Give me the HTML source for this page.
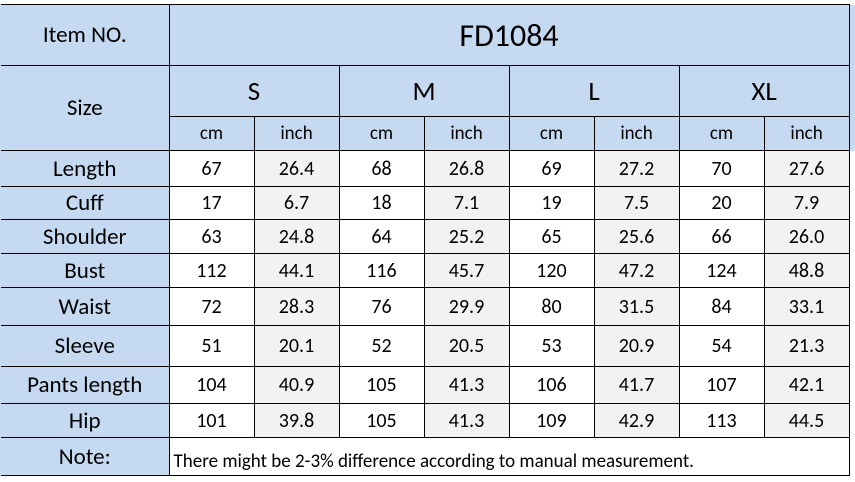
<!DOCTYPE html>
<html><head><meta charset="utf-8"><style>
html,body{margin:0;padding:0;background:#fff;width:855px;height:482px;overflow:hidden}
table{position:absolute;left:1px;top:4px;width:858px;border-collapse:collapse;table-layout:fixed;font-family:"Carlito","Liberation Sans",sans-serif;color:#000}
td{border:1px solid #000;padding:0;text-align:center;vertical-align:middle;font-size:20px;overflow:hidden;white-space:nowrap}
.b{background:#c5d9f1}
.h{background:#c5d9f1;font-size:19px}
.g{background:#f2f2f2}
.l{font-size:23px;background:#c5d9f1}
.s{background:#c5d9f1;font-size:27px}
.x{border-right:none;border-top:none;border-bottom:none}
</style></head><body>
<div style="position:absolute;left:0;top:4px;width:2px;height:146px;background:#c5d9f1"></div>
<div style="position:absolute;left:0;top:150px;width:2px;height:326px;background:#c5d9f1"></div>
<table>
<colgroup><col style="width:168px"><col style="width:85px"><col style="width:85px"><col style="width:85px"><col style="width:85px"><col style="width:85px"><col style="width:85px"><col style="width:85px"><col style="width:85px"><col style="width:10px"></colgroup>
<tr style="height:61px"><td class="l" style="border-left:none">Item NO.</td><td class="b" colspan="8" style="font-size:32px">FD1084</td><td class="b x"></td></tr>
<tr style="height:51px"><td class="l" rowspan="2" style="border-left:none">Size</td><td class="s" colspan="2">S</td><td class="s" colspan="2">M</td><td class="s" colspan="2">L</td><td class="s" colspan="2">XL</td><td class="b x"></td></tr>
<tr style="height:34px"><td class="h">cm</td><td class="h">inch</td><td class="h">cm</td><td class="h">inch</td><td class="h">cm</td><td class="h">inch</td><td class="h">cm</td><td class="h">inch</td><td class="b x"></td></tr>
<tr style="height:36px"><td class="l" style="border-left:none">Length</td><td>67</td><td class="g">26.4</td><td>68</td><td class="g">26.8</td><td>69</td><td class="g">27.2</td><td>70</td><td class="g">27.6</td><td class="x"></td></tr>
<tr style="height:33px"><td class="l" style="border-left:none">Cuff</td><td>17</td><td class="g">6.7</td><td>18</td><td class="g">7.1</td><td>19</td><td class="g">7.5</td><td>20</td><td class="g">7.9</td><td class="x"></td></tr>
<tr style="height:34px"><td class="l" style="border-left:none">Shoulder</td><td>63</td><td class="g">24.8</td><td>64</td><td class="g">25.2</td><td>65</td><td class="g">25.6</td><td>66</td><td class="g">26.0</td><td class="x"></td></tr>
<tr style="height:34px"><td class="l" style="border-left:none">Bust</td><td>112</td><td class="g">44.1</td><td>116</td><td class="g">45.7</td><td>120</td><td class="g">47.2</td><td>124</td><td class="g">48.8</td><td class="x"></td></tr>
<tr style="height:38px"><td class="l" style="border-left:none">Waist</td><td>72</td><td class="g">28.3</td><td>76</td><td class="g">29.9</td><td>80</td><td class="g">31.5</td><td>84</td><td class="g">33.1</td><td class="x"></td></tr>
<tr style="height:41px"><td class="l" style="border-left:none">Sleeve</td><td>51</td><td class="g">20.1</td><td>52</td><td class="g">20.5</td><td>53</td><td class="g">20.9</td><td>54</td><td class="g">21.3</td><td class="x"></td></tr>
<tr style="height:37px"><td class="l" style="border-left:none">Pants length</td><td>104</td><td class="g">40.9</td><td>105</td><td class="g">41.3</td><td>106</td><td class="g">41.7</td><td>107</td><td class="g">42.1</td><td class="x"></td></tr>
<tr style="height:34px"><td class="l" style="border-left:none">Hip</td><td>101</td><td class="g">39.8</td><td>105</td><td class="g">41.3</td><td>109</td><td class="g">42.9</td><td>113</td><td class="g">44.5</td><td class="x"></td></tr>
<tr style="height:38px"><td class="l" style="border-left:none">Note:</td><td colspan="8" style="text-align:left;vertical-align:bottom;padding:0 0 2px 4px;font-size:19px">There might be 2-3% difference according to manual measurement.</td><td class="x"></td></tr>
</table>
</body></html>
